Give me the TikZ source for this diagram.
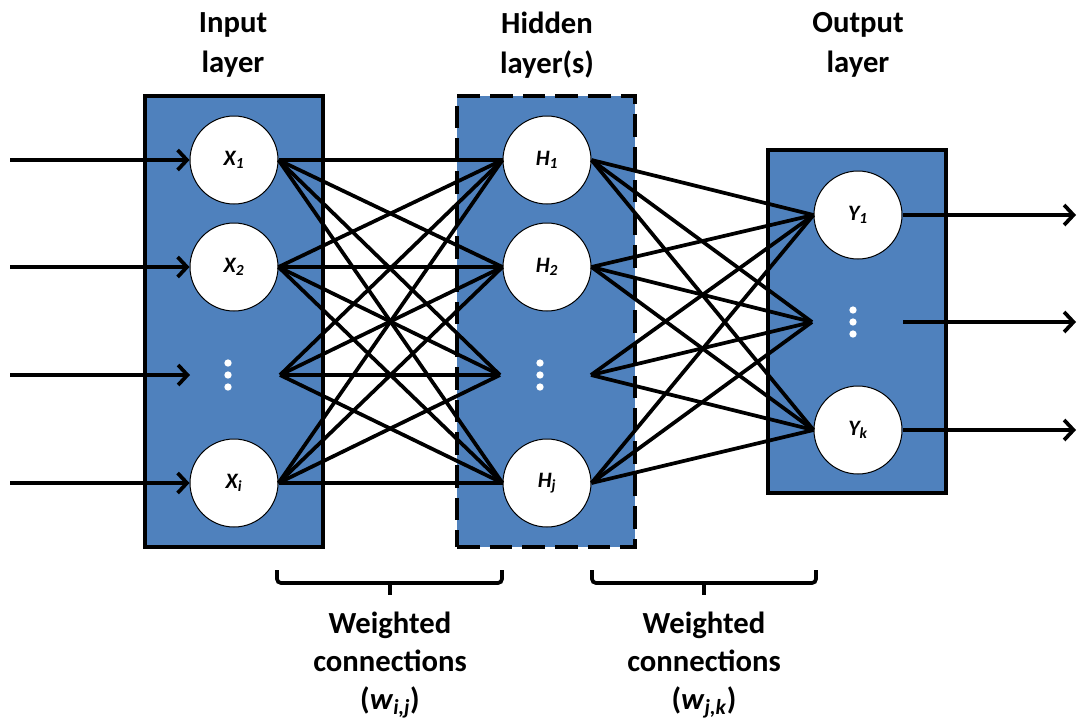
\documentclass[tikz,border=0pt]{standalone}
\usepackage{fontspec}
\setmainfont{Carlito}
\usetikzlibrary{arrows.meta}
\definecolor{boxblue}{HTML}{4F81BD}
\begin{document}
\begin{tikzpicture}[x=0.75pt,y=-0.75pt,
  layerbox/.style={draw=black,line width=2.8pt,fill=boxblue,minimum width=133.5pt,inner sep=0pt},
  neuron/.style={circle,draw=black,line width=0.75pt,fill=white,minimum size=66pt,inner sep=0pt,font=\fontsize{16.5}{18}\selectfont\bfseries\itshape},
  conn/.style={line width=2.8pt},
  io/.style={line width=2.8pt,-{Straight Barb[length=7pt,width=15pt,line width=2.8pt]}},
  title/.style={align=center,font=\fontsize{23}{30}\selectfont\bfseries},
  wlabel/.style={align=center,font=\fontsize{23}{28.5}\selectfont\bfseries},
  wdot/.style={circle,fill=white,inner sep=0pt,minimum size=5.5pt},
  brace/.style={line width=2.8pt,rounded corners=3pt}]
\useasboundingbox (0,0) rectangle (1078,722);

% layer boxes
\node[layerbox,minimum height=338.25pt] (inbox) at (234,321.5) {};
\node[layerbox,minimum height=338.25pt,dash pattern=on 17pt off 7.5pt] (hidbox) at (546,321.5) {};
\node[layerbox,minimum height=257.25pt] (outbox) at (857,321.5) {};

% titles
\node[title] (tin) at (233,45) {Input\\layer};
\node[title] (thid) at (547,45) {Hidden\\layer(s)};
\node[title] (tout) at (858,45) {Output\\layer};

% neurons
\node[neuron] (X1) at (234,160) {X\textsubscript{1}};
\node[neuron] (X2) at (234,267) {X\textsubscript{2}};
\node[neuron] (Xi) at (234,483) {X\textsubscript{i}};
\node[neuron] (H1) at (547,160) {H\textsubscript{1}};
\node[neuron] (H2) at (547,267) {H\textsubscript{2}};
\node[neuron] (Hj) at (547,483) {H\textsubscript{j}};
\node[neuron] (Y1) at (858,215) {Y\textsubscript{1}};
\node[neuron] (Yk) at (858,430) {Y\textsubscript{k}};

% dots
\foreach \n/\x/\y in {Xd/228/375,Hd/540/375,Yd/853/322}{
  \node[wdot] (\n a) at (\x,\y-12) {};
  \node[wdot] (\n b) at (\x,\y) {};
  \node[wdot] (\n c) at (\x,\y+12) {};
}

% anchor points for the dotted rows
\coordinate (XdW) at (190,375);
\coordinate (XdE) at (280,375);
\coordinate (HdW) at (500,375);
\coordinate (HdE) at (591,375);
\coordinate (YdW) at (812,322);
\coordinate (YdE) at (903,322);

% inputs
\coordinate (in1) at (10,160);
\coordinate (in2) at (10,267);
\coordinate (in3) at (10,375);
\coordinate (in4) at (10,483);
\draw[io] (in1) -- (X1.west);
\draw[io] (in2) -- (X2.west);
\draw[io] (in3) -- (XdW);
\draw[io] (in4) -- (Xi.west);

% outputs
\coordinate (out1) at (1076,215);
\coordinate (out2) at (1076,322);
\coordinate (out3) at (1076,430);
\draw[io] (Y1.east) -- (out1);
\draw[io] (YdE) -- (out2);
\draw[io] (Yk.east) -- (out3);

% weighted connections
\foreach \a in {X1.east,X2.east,XdE,Xi.east}{
  \foreach \b in {H1.west,H2.west,HdW,Hj.west}{
    \draw[conn] (\a) -- (\b);
  }
}
\foreach \a in {H1.east,H2.east,HdE,Hj.east}{
  \foreach \b in {Y1.west,YdW,Yk.west}{
    \draw[conn] (\a) -- (\b);
  }
}

% braces
\coordinate (b1l) at (277,570);
\coordinate (b1m) at (390,583);
\coordinate (b1t) at (390,595);
\coordinate (b1r) at (502,570);
\coordinate (b2l) at (592,570);
\coordinate (b2m) at (704,583);
\coordinate (b2t) at (704,595);
\coordinate (b2r) at (816,570);
\draw[brace] (b1l) |- (b1m) -| (b1r);
\draw[line width=2.8pt] (b1m) -- (b1t);
\draw[brace] (b2l) |- (b2m) -| (b2r);
\draw[line width=2.8pt] (b2m) -- (b2t);

% labels
\node[wlabel] (w1) at (390,665) {Weighted\\connections\\(\textit{w}\textsubscript{\textit{i,j}})};
\node[wlabel] (w2) at (704,665) {Weighted\\connections\\(\textit{w}\textsubscript{\textit{j,k}})};
\end{tikzpicture}
\end{document}
